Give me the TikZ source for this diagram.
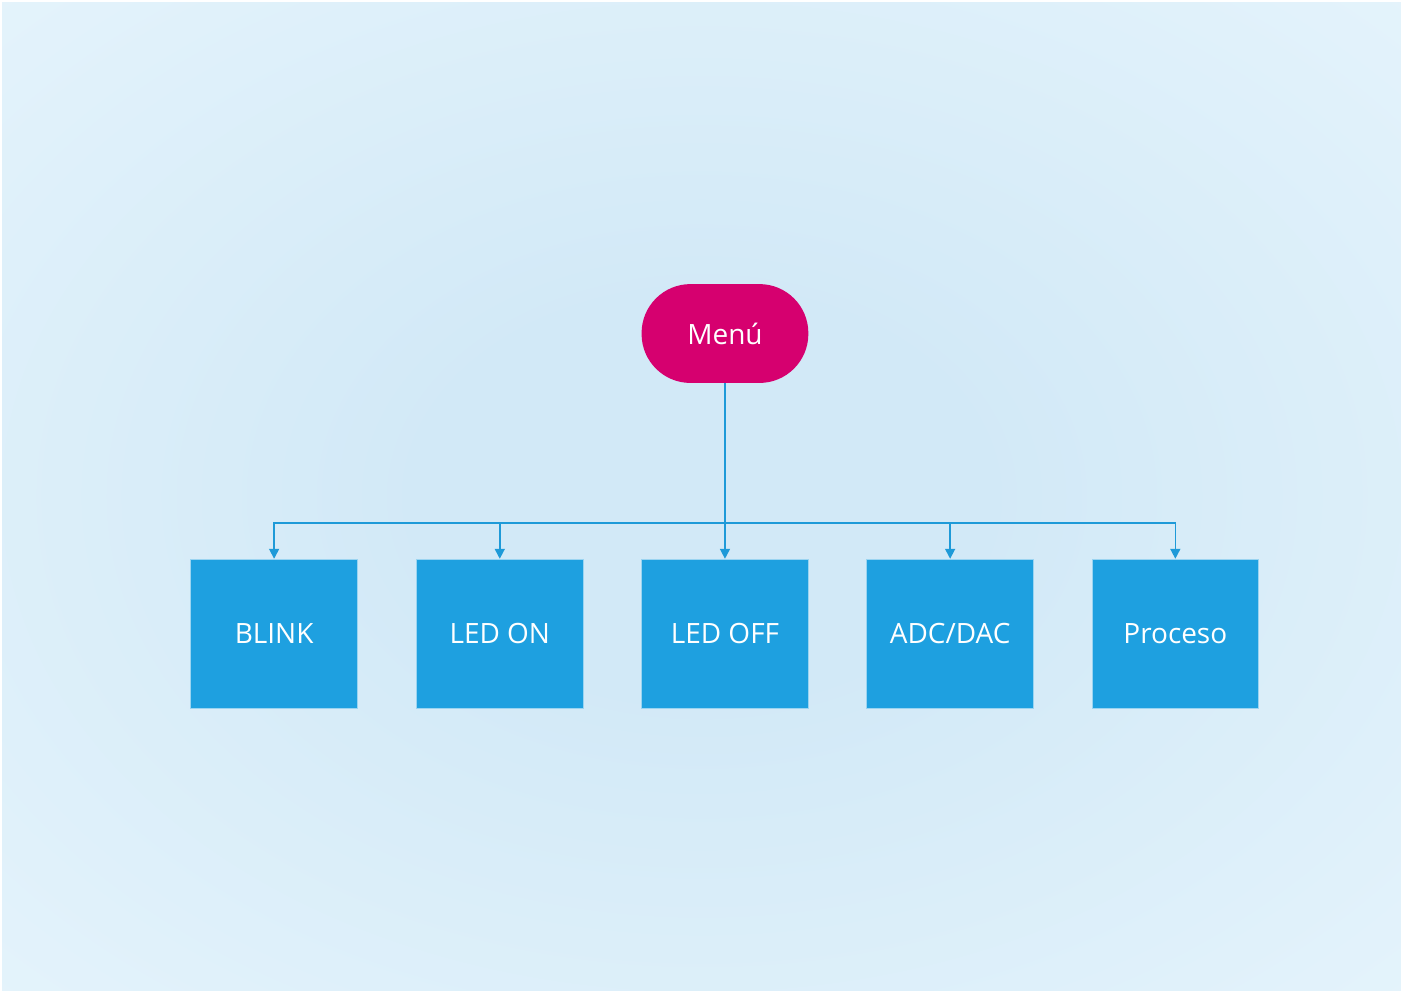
\documentclass[tikz,border=0pt]{standalone}
\usepackage{fontspec}
\setmainfont{Open Sans}
\usetikzlibrary{arrows.meta,positioning}
\definecolor{bgin}{HTML}{D2E9F7}
\definecolor{bgout}{HTML}{E7F5FC}
\definecolor{boxblue}{HTML}{1EA0E0}
\definecolor{lineblue}{HTML}{1E9AD8}
\definecolor{menupink}{HTML}{D6006F}
\pgfdeclareradialshading{bgglow}{\pgfpoint{0bp}{0bp}}{color(0bp)=(bgin); color(10bp)=(bgin); color(40bp)=(bgout); color(50bp)=(bgout)}
\tikzset{
  menubox/.style={rectangle,rounded corners=24.5pt,fill=menupink,text=white,
                  minimum width=83.5pt,minimum height=49.5pt,inner sep=0pt,font=\fontsize{14}{16}\selectfont},
  optbox/.style={rectangle,fill=boxblue,draw=white!55!boxblue,line width=0.4pt,text=white,
                 minimum width=83.5pt,minimum height=74.5pt,inner sep=0pt,font=\fontsize{14}{16}\selectfont},
  link/.style={draw=lineblue,line width=0.8pt},
}
\begin{document}
\begin{tikzpicture}[x=0.5pt,y=-0.5pt,>={Triangle[length=5pt,width=5pt]}]
  % background
  \shade[shading=bgglow] (0,0) rectangle (1403,992);
  \draw[white,line width=1pt] (0,0) rectangle (1403,992);
  \useasboundingbox (0,0) rectangle (1403,992);

  \node[menubox] (menu) at (725,333) {Menú};

  \node[optbox] (blink)  at (273.5,633.5) {BLINK};
  \node[optbox] (ledon)  at (499.5,633.5) {LED ON};
  \node[optbox] (ledoff) at (725,633.5)   {LED OFF};
  \node[optbox] (adc)    at (950.5,633.5) {ADC/DAC};
  \node[optbox] (proc)   at (1176,633.5)  {Proceso};

  \coordinate (bus) at (725,523);

  \path[link] (menu.south) -- (bus);
  \foreach \b in {blink,ledon,ledoff,adc,proc}
    \path[link,->] (bus) -| (\b.north);
\end{tikzpicture}
\end{document}
